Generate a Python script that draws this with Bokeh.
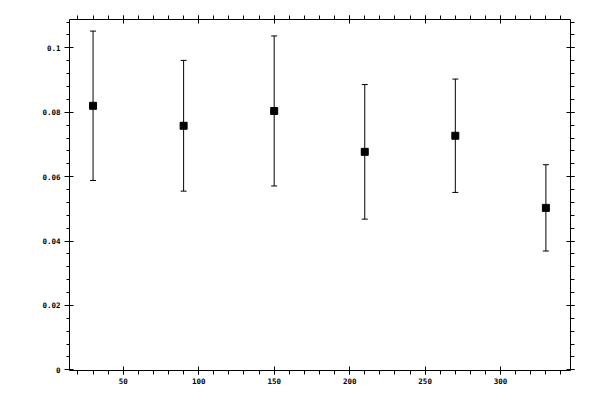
from bokeh.plotting import figure
from bokeh.models import ColumnDataSource, Range1d, LinearAxis, FixedTicker, Whisker, TeeHead
from bokeh.embed import file_html
from bokeh.resources import INLINE

# values
x_vals = [30, 90, 150, 210, 270, 330]
y_vals = [0.0820, 0.0758, 0.0804, 0.0677, 0.0727, 0.0503]
y_err = [0.0232, 0.0203, 0.0233, 0.0209, 0.0176, 0.0134]

x_ticks = [50, 100, 150, 200, 250, 300]
x_minor = list(range(20, 350, 10))
y_ticks = [0, 0.02, 0.04, 0.06, 0.08, 0.1]
y_tick_labels = ["0", "0.02", "0.04", "0.06", "0.08", "0.1"]
y_minor = [i * 0.004 for i in range(0, 28)]

FONT = "DejaVu Sans Mono"

source = ColumnDataSource(data=dict(
    x=x_vals, y=y_vals,
    upper=[v + e for v, e in zip(y_vals, y_err)],
    lower=[v - e for v, e in zip(y_vals, y_err)],
))

# page has no margin, so borders put the frame at 69..570 x 19..370
p = figure(width=600, height=400, output_backend="svg", toolbar_location=None, tools="",
           x_range=Range1d(14.4, 346.3), y_range=Range1d(-0.0002, 0.1088),
           min_border_left=69, min_border_right=30, min_border_top=19, min_border_bottom=30)
p.outline_line_color = None
p.grid.grid_line_color = None
p.background_fill_color = "white"
p.border_fill_color = "white"

p.add_layout(LinearAxis(), "above")
p.add_layout(LinearAxis(), "right")

for ax in p.xaxis:
    ax.ticker = FixedTicker(ticks=x_ticks, minor_ticks=x_minor)
for ax in p.yaxis:
    ax.ticker = FixedTicker(ticks=y_ticks, minor_ticks=y_minor)

for ax in p.axis:
    ax.axis_line_color = "black"
    ax.major_tick_line_color = "black"
    ax.minor_tick_line_color = "black"
    ax.major_tick_in = 4
    ax.major_tick_out = 4
    ax.minor_tick_in = 0
    ax.minor_tick_out = 4
    ax.major_label_text_font = FONT
    ax.major_label_text_font_size = "7.5px"
    ax.major_label_text_font_style = "bold"
    ax.major_label_text_color = "black"
    ax.major_label_standoff = 3

p.yaxis[0].major_tick_out = 5
p.yaxis[0].minor_tick_out = 3
p.yaxis[0].major_label_standoff = 4
p.yaxis[0].major_label_overrides = dict(zip(y_ticks, y_tick_labels))

# top and right axes: ticks only
for ax in (p.above[0], p.right[0]):
    ax.major_label_text_color = None
    ax.major_label_text_font_size = "1px"
    ax.major_label_standoff = 0

p.add_layout(Whisker(base="x", upper="upper", lower="lower", source=source,
                     line_color="black", line_width=1,
                     upper_head=TeeHead(size=6, line_color="black", line_width=1),
                     lower_head=TeeHead(size=6, line_color="black", line_width=1)))
p.scatter("x", "y", source=source, marker="square", size=7, color="black")

open("out.html", "w").write(file_html(p, INLINE))
